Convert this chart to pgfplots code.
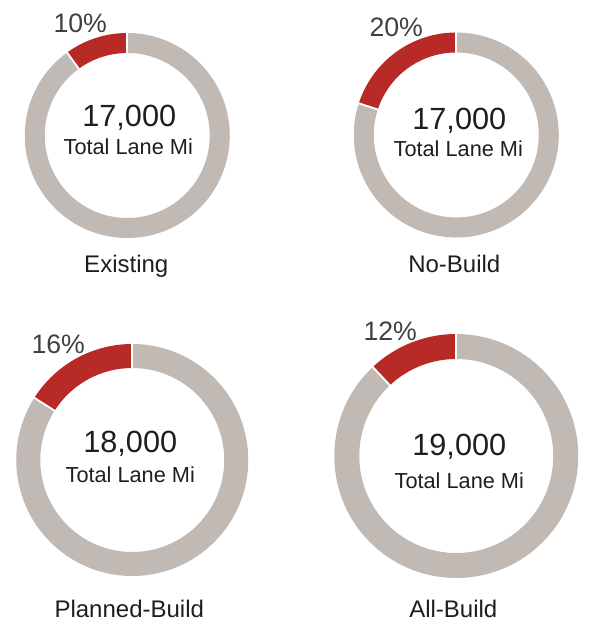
\documentclass[border=0pt]{standalone}
\usepackage{pgfplots}
\pgfplotsset{compat=1.18}
\usepackage{fontspec}
\setmainfont{Liberation Sans}
\definecolor{ringgray}{RGB}{192,185,180}
\definecolor{ringred}{RGB}{183,42,37}
\definecolor{pctgray}{RGB}{64,64,64}
\definecolor{txt}{RGB}{30,30,30}
% \donut{cx}{cy}{Router}{Rinner}{percent}
\newcommand{\sector}[6]{% color, cx, cy, R, r, a1, a2 -> use #1..#6 plus \secend
}
\newcommand{\donut}[5]{%
  \fill[ringred] ([shift={(90:#3*0.75pt)}]axis cs:#1,#2) arc[start angle=90,end angle=90+3.6*#5,radius=#3*0.75pt]
     -- ([shift={(90+3.6*#5:#4*0.75pt)}]axis cs:#1,#2) arc[start angle=90+3.6*#5,end angle=90,radius=#4*0.75pt] -- cycle;
  \fill[ringgray] ([shift={(90+3.6*#5:#3*0.75pt)}]axis cs:#1,#2) arc[start angle=90+3.6*#5,end angle=450,radius=#3*0.75pt]
     -- ([shift={(450:#4*0.75pt)}]axis cs:#1,#2) arc[start angle=450,end angle=90+3.6*#5,radius=#4*0.75pt] -- cycle;
  \draw[white,line width=1.4pt] ([shift={(90:#4*0.75pt-1pt)}]axis cs:#1,#2) -- ([shift={(90:#3*0.75pt+1pt)}]axis cs:#1,#2);
  \draw[white,line width=1.4pt] ([shift={(90+3.6*#5:#4*0.75pt-1pt)}]axis cs:#1,#2) -- ([shift={(90+3.6*#5:#3*0.75pt+1pt)}]axis cs:#1,#2);
}
\begin{document}
\begin{tikzpicture}
\begin{axis}[
  x=0.75pt, y=0.75pt,
  xmin=0, xmax=577, ymin=0, ymax=623,
  y dir=reverse,
  hide axis, clip=false,
]
\addplot[draw=none] coordinates {(0,0) (577,623)};
\path (rel axis cs:0,0) rectangle (rel axis cs:1,1);
% cx, cy, outer R, inner r, percent
\donut{125}{135.5}{102.5}{82.5}{10}
\donut{454}{135}{102.5}{82.5}{20}
\donut{130}{460}{116}{92}{16}
\donut{454}{456}{122}{97}{12}
% percent labels
\node[anchor=base,text=pctgray,font=\fontsize{20}{20}\selectfont] at (axis cs:78,33) {10\%};
\node[anchor=base,text=pctgray,font=\fontsize{20}{20}\selectfont] at (axis cs:394,37) {20\%};
\node[anchor=base,text=pctgray,font=\fontsize{20}{20}\selectfont] at (axis cs:56,353) {16\%};
\node[anchor=base,text=pctgray,font=\fontsize{20}{20}\selectfont] at (axis cs:388,340) {12\%};
% totals
\node[anchor=base,text=txt,font=\fontsize{23}{23}\selectfont] at (axis cs:127,127) {17,000};
\node[anchor=base,text=txt,font=\fontsize{16.3}{16}\selectfont] at (axis cs:126,155) {Total Lane Mi};
\node[anchor=base,text=txt,font=\fontsize{23}{23}\selectfont] at (axis cs:457,130) {17,000};
\node[anchor=base,text=txt,font=\fontsize{16.3}{16}\selectfont] at (axis cs:456,157) {Total Lane Mi};
\node[anchor=base,text=txt,font=\fontsize{23}{23}\selectfont] at (axis cs:128,452) {18,000};
\node[anchor=base,text=txt,font=\fontsize{16.3}{16}\selectfont] at (axis cs:128,482) {Total Lane Mi};
\node[anchor=base,text=txt,font=\fontsize{23}{23}\selectfont] at (axis cs:457,455) {19,000};
\node[anchor=base,text=txt,font=\fontsize{16.3}{16}\selectfont] at (axis cs:457,488) {Total Lane Mi};
% scenario labels
\node[anchor=base,text=txt,font=\fontsize{18}{18}\selectfont] at (axis cs:124,272) {Existing};
\node[anchor=base,text=txt,font=\fontsize{18}{18}\selectfont] at (axis cs:452,272) {No-Build};
\node[anchor=base,text=txt,font=\fontsize{18}{18}\selectfont] at (axis cs:127,617) {Planned-Build};
\node[anchor=base,text=txt,font=\fontsize{18}{18}\selectfont] at (axis cs:451,617) {All-Build};
\end{axis}
\end{tikzpicture}
\end{document}
